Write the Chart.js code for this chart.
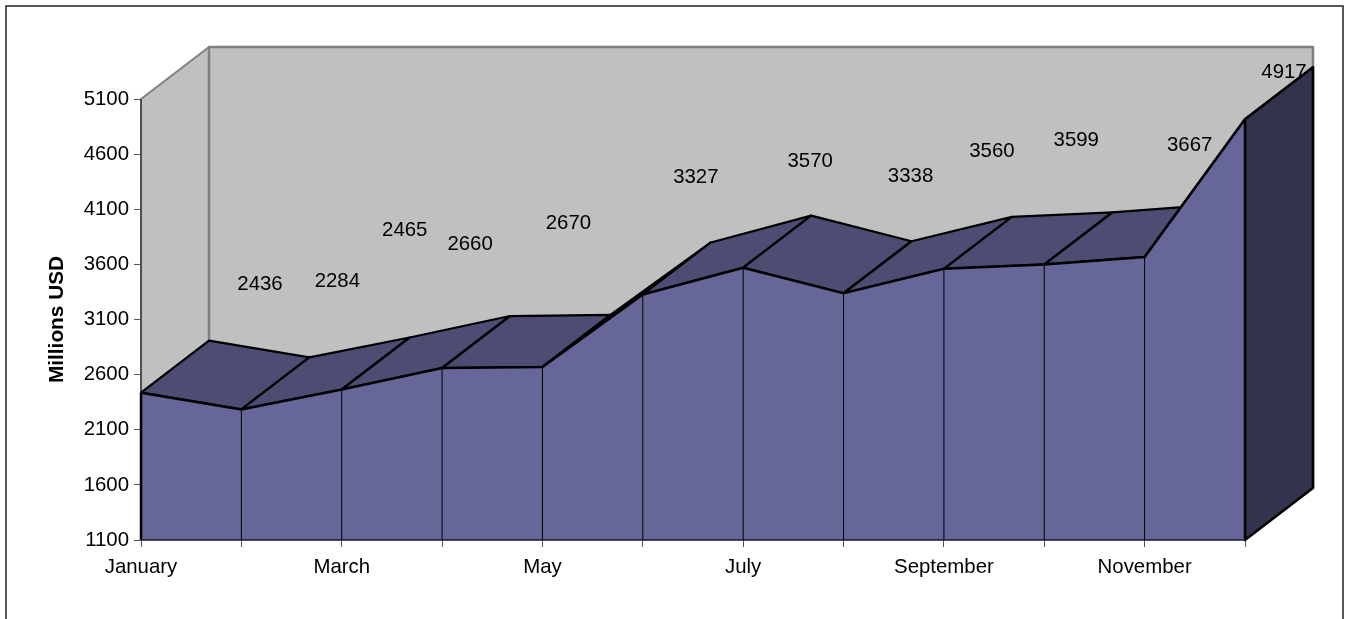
<!DOCTYPE html>
<html><head><meta charset="utf-8">
<style>html,body{margin:0;padding:0;background:#fff;overflow:hidden}canvas{display:block}</style>
<script src="https://cdn.jsdelivr.net/npm/chart.js@4"></script>
</head><body><canvas id="c" width="1346" height="619"></canvas>
<script>
const months = ["January","February","March","April","May","June","July","August","September","October","November","December"];
const revenue = [2436,2284,2465,2660,2670,3327,3570,3338,3560,3599,3667,4917];
const yMin = 1100, yMax = 5100, yStep = 500;
const axisTitle = "Millions USD";
// label displacement from each point, as the reference places them
const labelShift = [[119,-108],[96,-128],[63,-159],[28,-124],[26,-144],[53,-117],[67,-106],[67,-117],[48,-117],[32,-124],[45,-112],[39,-47]];
const DX = 68, DY = -52;
const FONT = 'Liberation Sans';
const three = {
  id:'three',
  beforeDraw(ch){
    const c=ch.ctx; c.save(); c.strokeStyle='#222'; c.lineWidth=1.5;
    c.beginPath(); c.moveTo(6,625); c.lineTo(6,6); c.lineTo(1343,6); c.lineTo(1343,625); c.stroke(); c.restore();
  },
  beforeDatasetsDraw(ch){
    const c=ch.ctx,x=ch.scales.x,y=ch.scales.y;
    const L=x.getPixelForValue(0),R=x.getPixelForValue(months.length-1),T=y.getPixelForValue(yMax),B=y.getPixelForValue(yMin);
    c.save(); c.lineJoin='round';
    const poly=(p,f,s,w)=>{c.beginPath();p.forEach((q,i)=>i?c.lineTo(q[0],q[1]):c.moveTo(q[0],q[1]));c.closePath();if(f){c.fillStyle=f;c.fill();}if(s){c.strokeStyle=s;c.lineWidth=w;c.stroke();}};
    poly([[L,T],[L+DX,T+DY],[L+DX,B+DY],[L,B]],'#C0C0C0','#808080',2);
    poly([[L+DX,T+DY],[R+DX,T+DY],[R+DX,B+DY],[L+DX,B+DY]],'#C0C0C0','#808080',2.5);
    c.beginPath();c.moveTo(L,T);c.lineTo(L,B);c.strokeStyle='#505050';c.lineWidth=2;c.stroke();
    for(let i=0;i<revenue.length-1;i++){
      const a=[x.getPixelForValue(i),y.getPixelForValue(revenue[i])],b=[x.getPixelForValue(i+1),y.getPixelForValue(revenue[i+1])];
      poly([a,b,[b[0]+DX,b[1]+DY],[a[0]+DX,a[1]+DY]],'#4D4D73','#000',2.25);
    }
    const e=y.getPixelForValue(revenue[revenue.length-1]);
    poly([[R,e],[R+DX,e+DY],[R+DX,B+DY],[R,B]],'#33334D','#000',2.5);
    c.restore();
  },
  afterDatasetsDraw(ch){
    const c=ch.ctx,x=ch.scales.x,y=ch.scales.y,B=y.getPixelForValue(yMin);
    c.save();
    revenue.forEach((v,i)=>{
      const px=x.getPixelForValue(i),py=y.getPixelForValue(v);
      const edge=i===0||i===revenue.length-1;
      c.beginPath();c.moveTo(px,py);c.lineTo(px,B);c.strokeStyle='#000';c.lineWidth=edge?2.5:1;c.stroke();
    });
    c.beginPath();c.moveTo(x.getPixelForValue(0),B);c.lineTo(x.getPixelForValue(revenue.length-1),B);c.strokeStyle='#1a1a33';c.lineWidth=1.5;c.stroke();
    c.font='20.4px "'+FONT+'"';c.fillStyle='#000';c.textAlign='center';c.textBaseline='middle';
    revenue.forEach((v,i)=>{
      c.fillText(String(v),x.getPixelForValue(i)+labelShift[i][0],y.getPixelForValue(v)+labelShift[i][1]);
    });
    c.restore();
  }
};
new Chart(document.getElementById('c'),{
  type:'line',
  data:{labels:months,datasets:[{data:revenue,fill:'start',backgroundColor:'#666699',borderColor:'#000',borderWidth:2.5,tension:0,pointRadius:0,clip:false}]},
  plugins:[three],
  options:{
    responsive:false,animation:false,devicePixelRatio:1,
    layout:{padding:{top:99,right:101,left:0,bottom:0}},
    plugins:{legend:{display:false},tooltip:{enabled:false}},
    scales:{
      x:{
        offset:false,
        afterFit(s){s.height=79;},
        border:{display:false},
        grid:{drawOnChartArea:false,drawTicks:true,tickLength:7,color:'#555',lineWidth:1},
        ticks:{autoSkip:false,maxRotation:0,minRotation:0,padding:8,color:'#000',font:{family:FONT,size:20.4},
          callback(v,i){return i%2===0?months[i]:'';}}
      },
      y:{
        min:yMin,max:yMax,
        afterFit(s){s.width=141;},
        border:{display:false},
        grid:{drawOnChartArea:false,drawTicks:true,tickLength:7,color:'#555',lineWidth:1},
        ticks:{stepSize:yStep,padding:5,color:'#000',font:{family:FONT,size:20.4},callback(v){return String(v);}},
        title:{display:true,text:axisTitle,color:'#000',padding:{top:45,bottom:0},font:{family:FONT,size:20.8,weight:'bold'}}
      }
    }
  }
});
</script></body></html>
